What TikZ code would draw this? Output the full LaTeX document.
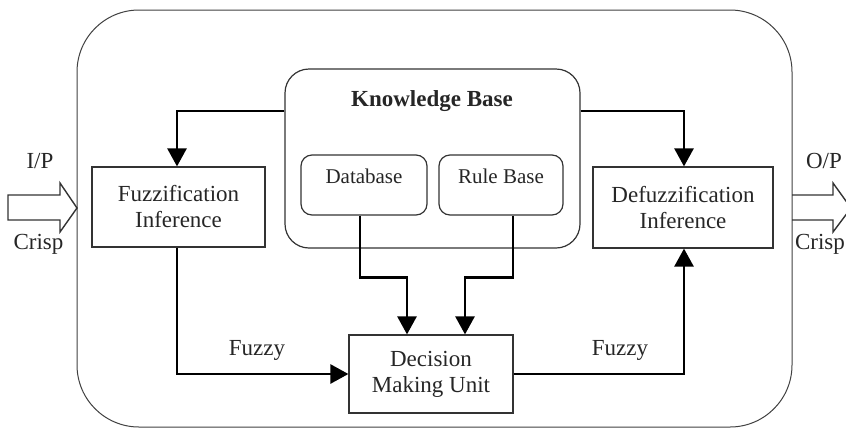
\documentclass[tikz,border=0pt]{standalone}
\usepackage{fontspec}
\setmainfont{Liberation Serif}
\usetikzlibrary{arrows.meta}
\begin{document}
\begin{tikzpicture}[x=1pt,y=-1pt,
  txt/.style={font=\fontsize{23}{26}\selectfont, text=black!85},
  smalltxt/.style={font=\fontsize{21}{24}\selectfont, text=black!85},
  box/.style={draw=black!80, line width=1.2pt, rectangle, inner sep=0pt, txt, align=center},
  rbox/.style={draw=black!80, line width=1.2pt, rectangle, inner sep=0pt},
  conn/.style={line width=2.6pt, draw=black, -{Triangle[width=19pt,length=18pt]}},
  hollow/.style={line width=1.4pt, draw=black!80, line join=miter}]

\useasboundingbox (0,0) rectangle (846,429);
\clip (0,0) rectangle (846,429);

% enclosing system outline
\node[draw=black!75, line width=1pt, rounded corners=62pt, inner sep=0pt,
      minimum width=715pt, minimum height=417pt] (outer) at (434.5,218.5) {};

% knowledge base with its two stores
\node[rbox, rounded corners=24pt, minimum width=295pt, minimum height=179pt] (kb) at (432.5,158.5) {};
\node[txt, font=\fontsize{23}{26}\selectfont\bfseries, anchor=base] (kbtext) at (432,106) {Knowledge Base};
\node[rbox, rounded corners=11pt, minimum width=126pt, minimum height=60pt] (db) at (364,185) {};
\node[smalltxt, anchor=base] (dbtext) at (364,183) {Database};
\node[rbox, rounded corners=11pt, minimum width=124pt, minimum height=60pt] (rb) at (501,185) {};
\node[smalltxt, anchor=base] (rbtext) at (501,183) {Rule Base};

% processing blocks
\node[box, minimum width=173pt, minimum height=80pt] (fuzz) at (178.5,207) {Fuzzification\\Inference};
\node[box, minimum width=180pt, minimum height=81pt] (defuzz) at (683,207.5) {Defuzzification\\Inference};
\node[box, minimum width=164pt, minimum height=78pt] (dmu) at (431,374) {Decision\\Making Unit};

% connectors
\coordinate (kbrow) at (0,111);
\draw[conn] (kbrow -| kb.west) -| ([xshift=-1.5pt]fuzz.north);
\draw[conn] (kbrow -| kb.east) -| ([xshift=1pt]defuzz.north);
\draw[conn] ([xshift=-4pt]db.south) -- ++(0,62) -| ([xshift=-24pt]dmu.north);
\draw[conn] ([xshift=12pt]rb.south) -- ++(0,62) -| ([xshift=34pt]dmu.north);
\draw[conn] ([xshift=-1.5pt]fuzz.south) |- (dmu.west);
\draw[conn] (dmu.east) -| ([xshift=1pt]defuzz.south);

\node[txt] (fuzzyl) at (257,350) {Fuzzy};
\node[txt] (fuzzyr) at (620,350) {Fuzzy};

% crisp input and output arrows
\draw[hollow] (8,195) -- (60,195) -- (60,183) -- (77,208) -- (60,232) -- (60,220) -- (8,220) -- cycle;
\draw[hollow] (792,195) -- (833,195) -- (833,183) -- (851,208) -- (833,232) -- (833,220) -- (792,220);

\node[txt, anchor=base] (ip) at (40,168) {I/P};
\node[txt, anchor=base] (crispin) at (38.5,249) {Crisp};
\node[txt, anchor=base] (op) at (824,168) {O/P};
\node[txt, anchor=base] (crispout) at (820,249) {Crisp};
\end{tikzpicture}
\end{document}
